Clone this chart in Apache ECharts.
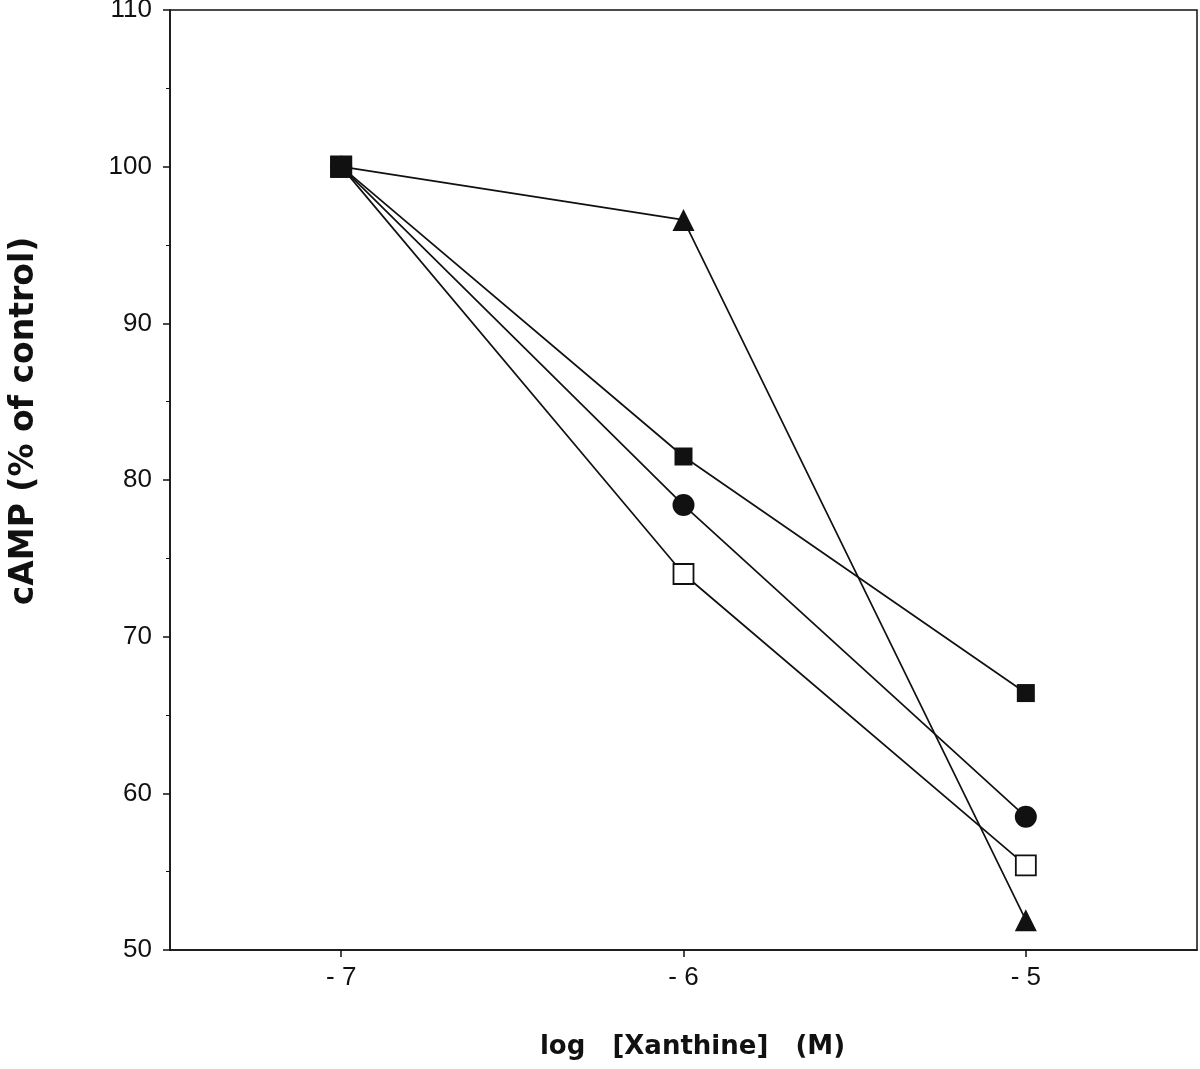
<!DOCTYPE html>
<html>
<head>
<meta charset="utf-8">
<script src="https://cdn.jsdelivr.net/npm/echarts@6/dist/echarts.min.js"></script>
<style>
  html, body { margin: 0; padding: 0; background: #fff; }
  #main { width: 1200px; height: 1069px; }
</style>
</head>
<body>
<div id="main"></div>
<script>
// log [Xanthine] (M)
const logConc = [-7, -6, -5];
const yTicks = [50, 60, 70, 80, 90, 100, 110];

// cAMP (% of control)
const filledSquare = [100, 81.5, 66.4];
const filledCircle = [100, 78.4, 58.5];
const openSquare = [100, 74.0, 55.4];
const filledTriangle = [100, 96.6, 51.9];

const chart = echarts.init(document.getElementById('main'));

function pairs(ys) {
    return logConc.map((x, i) => [x, ys[i]]);
}

function makeSeries(name, ys, symbol, size, open, z) {
    return {
        name: name,
        type: 'line',
        data: pairs(ys),
        symbol: symbol,
        symbolSize: size,
        showAllSymbol: true,
        z: z,
        lineStyle: { color: '#111', width: 1.7 },
        itemStyle: {
            color: open ? '#fff' : '#111',
            borderColor: '#111',
            borderWidth: open ? 1.8 : 0
        },
        emphasis: { disabled: true }
    };
}

let option = {
    backgroundColor: '#fff',
    animation: false,
    grid: {
        left: 170,
        right: 3,
        top: 10,
        bottom: 119,
        outerBoundsMode: 'none',
        show: true,
        borderColor: '#111',
        borderWidth: 1.5
    },
    xAxis: {
        type: 'value',
        min: -7.5,
        max: -4.5,
        name: 'log   [Xanthine]   (M)',
        nameLocation: 'middle',
        nameGap: 84,
        nameTextStyle: {
            fontFamily: 'DejaVu Sans',
            fontSize: 26,
            fontWeight: 'bold',
            color: '#111',
            padding: [0, 0, 0, 18]
        },
        axisLine: { lineStyle: { color: '#111', width: 1.5 } },
        axisTick: { inside: false, length: 7, lineStyle: { color: '#111', width: 1.5 }, customValues: logConc },
        axisLabel: {
            margin: 15,
            customValues: logConc,
            formatter: v => '- ' + Math.abs(v),
            fontFamily: 'Liberation Sans',
            fontSize: 26,
            color: '#111'
        },
        splitLine: { show: false }
    },
    yAxis: {
        type: 'value',
        min: 50,
        max: 110,
        interval: 10,
        axisLine: { show: true, lineStyle: { color: '#111', width: 1.5 } },
        axisTick: { show: true, length: 7, lineStyle: { color: '#111', width: 1.5 }, customValues: yTicks },
        minorTick: { show: true, splitNumber: 2, length: 4, lineStyle: { color: '#111', width: 1 } },
        axisLabel: {
            margin: 18,
            customValues: yTicks,
            fontFamily: 'Liberation Sans',
            fontSize: 26,
            color: '#111'
        },
        splitLine: { show: false }
    },
    graphic: [{
        type: 'text',
        rotation: Math.PI / 2,
        x: 24,
        y: 421,
        style: {
            text: 'cAMP (% of control)',
            fontFamily: 'DejaVu Sans',
            fontSize: 33,
            fontWeight: 'bold',
            fill: '#111',
            align: 'center',
            verticalAlign: 'middle'
        }
    }],
    series: [
        makeSeries('triangle', filledTriangle, 'triangle', 22, false, 2),
        makeSeries('open square', openSquare, 'rect', 20, true, 3),
        makeSeries('circle', filledCircle, 'circle', 22, false, 4),
        Object.assign(makeSeries('square', filledSquare, 'rect', 18, false, 5), {
            symbolSize: (v, p) => p.dataIndex === 0 ? 22 : 18
        })
    ]
};

chart.setOption(option);
</script>
</body>
</html>
